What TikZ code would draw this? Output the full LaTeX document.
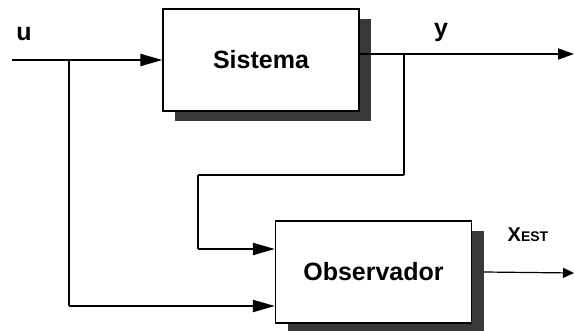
\documentclass[tikz,border=0pt]{standalone}
\usepackage{fontspec}
\setmainfont{Liberation Sans}
\usetikzlibrary{arrows.meta,shadows,positioning}

\begin{document}
\begin{tikzpicture}[x=1pt,y=-1pt, semithick, font=\bfseries,
    >={Triangle[length=22pt,width=12pt]}]
  \tikzstyle{bloque}=[draw=black,line width=1.2pt,fill=white,minimum width=196pt,minimum height=102pt,
      font=\fontsize{25}{28}\selectfont\bfseries,
      drop shadow={shadow xshift=12pt,shadow yshift=-10pt,fill=black!78,opacity=1}]
  \tikzstyle{senal}=[line width=2pt]
  \tikzstyle{rama}=[line width=1.3pt]
  \useasboundingbox (0,0) rectangle (574,330);

  \node[bloque] (sis) at (261,60)  {Sistema};
  \node[bloque] (obs) at (373.5,272) {Observador};

  % entradas y salidas
  \coordinate (uin)  at (12,60);
  \coordinate (uj)   at (69,60);
  \coordinate (ys)   at ([yshift=6pt]sis.east);
  \coordinate (yj)   at (404,54);
  \coordinate (yout) at (574,54);
  \coordinate (yk)   at (198,175);
  \coordinate (oin1) at ([yshift=23pt]obs.west);
  \coordinate (oin2) at ([yshift=-34pt]obs.west);
  \coordinate (xs)   at ([xshift=12pt]obs.east);
  \coordinate (xout) at (574,273);

  \node[font=\fontsize{25}{28}\selectfont\bfseries] (u) at (24,34) {u};
  \node[font=\fontsize{25}{28}\selectfont\bfseries] (y) at (441,32) {y};
  \node (xest) at (528,235) {\fontsize{20}{22}\selectfont X\fontsize{14}{16}\selectfont EST};

  \draw[senal,->] (uin) -- (sis.west);
  \draw[senal,-{Triangle[length=16pt,width=11pt]}] (ys) -- (yout);
  \draw[rama] (uj) -- (uj |- oin2);
  \draw[senal,->] (uj |- oin2) -- (oin2);
  \draw[rama] (yj) -- (yj |- yk);
  \draw[senal] (yj |- yk) -- (yk);
  \draw[rama] (yk) -- (yk |- oin1);
  \draw[senal,->] (yk |- oin1) -- (oin1);
  \draw[line width=1.2pt,-{Triangle[length=11pt,width=10pt]}] (xs) -- (xout);
\end{tikzpicture}
\end{document}
